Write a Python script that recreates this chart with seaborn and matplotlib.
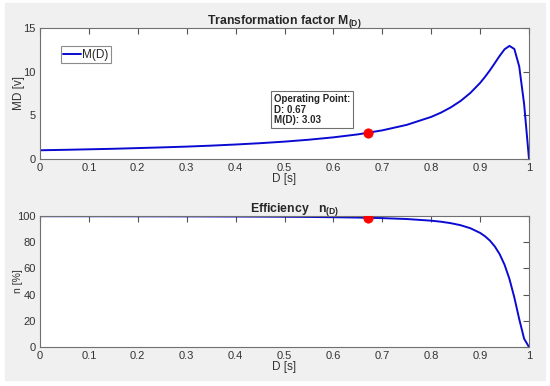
"""
transformation factor and efficiency vs duty cycle
"""

import matplotlib
matplotlib.use('Agg')
import matplotlib.pyplot as plt
from matplotlib.patches import Rectangle
import pandas as pd
import seaborn as sns

# values
duty = [0.0, 0.05, 0.1, 0.15, 0.2, 0.25, 0.3, 0.35, 0.4, 0.45, 0.5, 0.55, 0.6,
        0.65, 0.7, 0.75, 0.8, 0.82, 0.84, 0.86, 0.88, 0.9, 0.91, 0.92, 0.93,
        0.94, 0.95, 0.96, 0.97, 0.98, 0.99, 1.0]
m_d = [1.00, 1.05, 1.11, 1.17, 1.25, 1.33, 1.42, 1.53, 1.66, 1.81, 1.99, 2.21,
       2.48, 2.82, 3.28, 3.91, 4.82, 5.31, 5.91, 6.64, 7.56, 8.71, 9.40, 10.15,
       10.97, 11.81, 12.56, 12.95, 12.6, 10.6, 6.3, 0.0]
eff = [99.85, 99.84, 99.82, 99.80, 99.77, 99.74, 99.70, 99.65, 99.59, 99.51,
       99.41, 99.27, 99.08, 98.81, 98.38, 97.69, 96.43, 95.63, 94.53, 92.98,
       90.68, 87.11, 84.55, 81.22, 76.80, 70.87, 62.81, 51.95, 37.82, 21.28,
       6.33, 0.0]
op_d = [0.67]
op_m = [3.03]
op_eff = [98.6]

df = pd.DataFrame({'D': duty, 'M': m_d, 'eff': eff})

sns.set_style('white')
plt.rcParams['font.family'] = ['Liberation Sans', 'DejaVu Sans']
plt.rcParams['mathtext.fontset'] = 'custom'
plt.rcParams['mathtext.rm'] = 'Liberation Sans'
plt.rcParams['mathtext.bf'] = 'Liberation Sans:bold'

fig = plt.figure(figsize=(5.5, 3.86), dpi=100, facecolor='white')
fig.patches.append(Rectangle((5 / 550, 6 / 386), 540 / 550, 377 / 386,
                             transform=fig.transFigure, color='#f0f0f0', zorder=-1))

ax1 = fig.add_axes([40 / 550, (386 - 159) / 386, 489 / 550, 131 / 386])
ax2 = fig.add_axes([40 / 550, (386 - 347) / 386, 489 / 550, 131 / 386])

blue = '#0a0ad2'
edge = '#707070'

sns.lineplot(data=df, x='D', y='M', ax=ax1, color=blue, linewidth=1.4, label='M(D)')
sns.scatterplot(x=op_d, y=op_m, ax=ax1, color='red', s=45, edgecolor='red', zorder=5)
sns.lineplot(data=df, x='D', y='eff', ax=ax2, color=blue, linewidth=1.4)
sns.scatterplot(x=op_d, y=op_eff, ax=ax2, color='red', s=45, edgecolor='red', zorder=5)

for ax in (ax1, ax2):
    ax.set_facecolor('white')
    ax.set_xlim(0, 1)
    ax.set_xticks([0, 0.1, 0.2, 0.3, 0.4, 0.5, 0.6, 0.7, 0.8, 0.9, 1])
    ax.set_xticklabels(['0', '0.1', '0.2', '0.3', '0.4', '0.5', '0.6', '0.7', '0.8', '0.9', '1'])
    ax.tick_params(direction='in', top=True, right=True, length=4, width=0.8,
                   colors='#555555', labelsize=8, pad=3, labelcolor='#333333')
    for s in ax.spines.values():
        s.set_color(edge)
        s.set_linewidth(0.8)
    ax.set_xlabel('D [s]', fontsize=8.5, color='#333333', labelpad=0)

ax1.set_ylim(0, 15)
ax1.set_yticks([0, 5, 10, 15])
ax1.set_ylabel('MD [v]', fontsize=8.5, color='#333333')
ax1.yaxis.set_label_coords(-0.031, 0.5)
ax1.set_title(r'Transformation factor $\mathbf{M_{(D)}}$', fontsize=8.8,
              fontweight='bold', pad=3)
leg = ax1.legend(loc='upper left', bbox_to_anchor=(0.042, 0.86), fontsize=8.5,
                 frameon=True, fancybox=False, handlelength=1.5, handletextpad=0.15,
                 borderpad=0.2, borderaxespad=0)
leg.get_frame().set_edgecolor('#707070')
leg.get_frame().set_linewidth(0.8)
ax1.text(0.478, 7.4, 'Operating Point:\nD: 0.67\nM(D): 3.03', fontsize=7,
         fontweight='bold', va='top', ha='left', linespacing=1.05,
         bbox=dict(boxstyle='square,pad=0.3', facecolor='white', edgecolor='#707070',
                   linewidth=0.8))

ax2.set_ylim(0, 100)
ax2.set_yticks([0, 20, 40, 60, 80, 100])
ax2.set_ylabel('n [%]', fontsize=7.5, color='#333333')
ax2.yaxis.set_label_coords(-0.035, 0.5)
ax2.set_title(r'Efficiency   $\mathbf{n_{(D)}}$', fontsize=8.8, fontweight='bold',
              pad=3, x=0.52)

fig.savefig('out.png', dpi=100)
